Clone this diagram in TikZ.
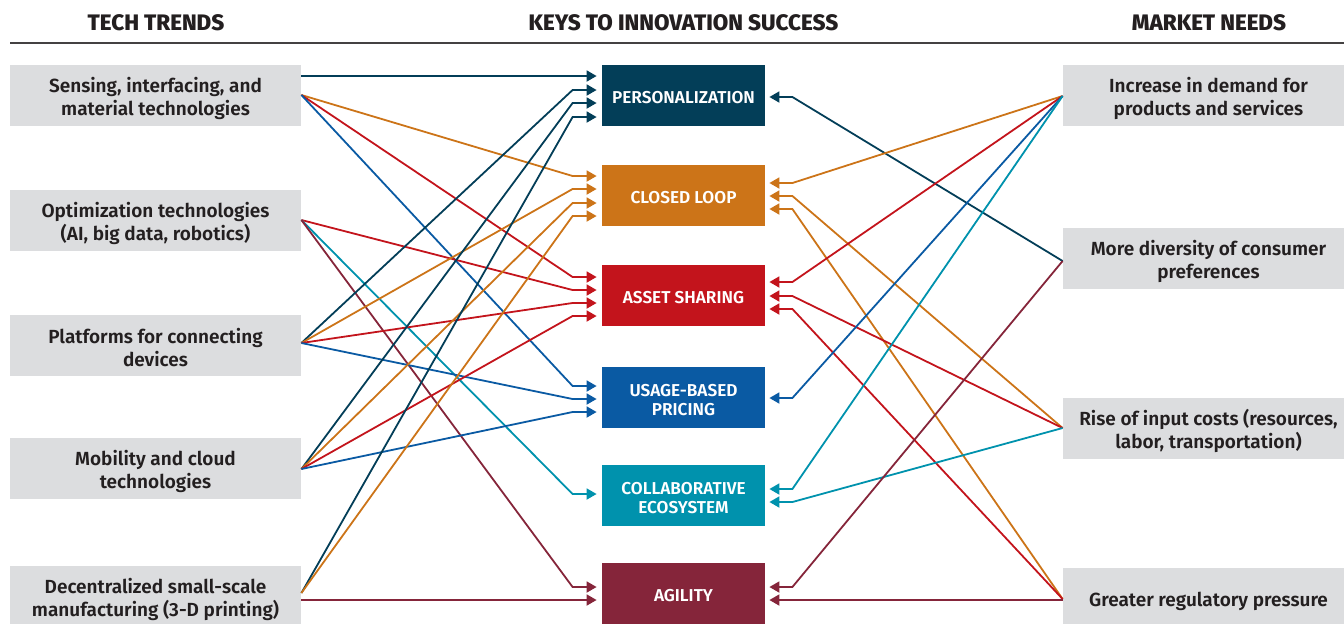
\documentclass[tikz,border=0pt]{standalone}
\usepackage{fontspec}
\setmainfont{Fira Sans SemiBold}
\newfontfamily\headfont{Fira Sans ExtraBold}
\usetikzlibrary{arrows.meta,calc}
\definecolor{cnavy}{HTML}{033E58}
\definecolor{corange}{HTML}{CC7418}
\definecolor{cred}{HTML}{C3141C}
\definecolor{cblue}{HTML}{0A5AA3}
\definecolor{cteal}{HTML}{0092AD}
\definecolor{cmaroon}{HTML}{85253A}
\definecolor{cgray}{HTML}{DCDDDF}
\definecolor{ctext}{HTML}{231F20}
\tikzset{
  x=0.5pt, y=-0.5pt,
  sidebox/.style={fill=cgray, minimum width=145.5pt, minimum height=30.5pt, inner sep=0pt},
  sidetext/.style={text=ctext, inner sep=0pt, align=center, font=\fontsize{9.5}{11.5}\selectfont},
  keybox/.style={fill=#1, minimum width=81.5pt, minimum height=30.5pt, inner sep=0pt},
  keytext/.style={text=white, inner sep=0pt, align=center, font=\fontsize{8.6}{9.7}\selectfont},
  header/.style={text=ctext, font=\headfont\fontsize{11.2}{13}\selectfont},
  link/.style={line width=0.9pt, line join=miter, -{Triangle[length=5pt,width=5.5pt]}},
}
\newcommand\inL[4]{\draw[link,#1] (#2) -- ($(#3.west)+(-29,#4)$) -- ($(#3.west)+(-5,#4)$);}
\newcommand\inR[4]{\draw[link,#1] (#2) -- ($(#3.east)+(27,#4)$) -- ($(#3.east)+(4,#4)$);}
\newcommand\sidenode[3]{\node[sidebox] (#1) at (#2) {};\node[sidetext] (#1t) at ($(#1)+(0,2.5)$) {#3};}
\newcommand\keynode[4]{\node[keybox=#2] (#1) at (#3) {};\node[keytext] (#1t) at ($(#1)+(0,2.5)$) {#4};}
\begin{document}
\begin{tikzpicture}
\useasboundingbox (0,0) rectangle (1344,623);
% headers
\node[header] (h1) at (156,23) {TECH TRENDS};
\node[header] (h2) at (683.5,23) {KEYS TO INNOVATION SUCCESS};
\node[header] (h3) at (1209,23) {MARKET NEEDS};
\coordinate (rl) at (10,43);
\coordinate (rr) at (1344,43);
\draw[line width=0.6pt, ctext!85] (rl) -- (rr);
% left boxes
\sidenode{L1}{155.5,95.5}{Sensing, interfacing, and\\material technologies}
\sidenode{L2}{155.5,220.5}{Optimization technologies\\(AI, big data, robotics)}
\sidenode{L3}{155.5,345.5}{Platforms for connecting\\devices}
\sidenode{L4}{155.5,468.5}{Mobility and cloud\\technologies}
\sidenode{L5}{155.5,596.5}{Decentralized small-scale\\manufacturing (3-D printing)}
% key boxes
\keynode{P}{cnavy}{683.5,95.5}{PERSONALIZATION}
\keynode{C}{corange}{683.5,195.5}{CLOSED LOOP}
\keynode{A}{cred}{683.5,295.5}{ASSET SHARING}
\keynode{U}{cblue}{683.5,397.5}{USAGE-BASED\\PRICING}
\keynode{Co}{cteal}{683.5,495.5}{COLLABORATIVE\\ECOSYSTEM}
\keynode{Ag}{cmaroon}{683.5,593.5}{AGILITY}
% right boxes
\sidenode{R1}{1208.5,95.5}{Increase in demand for\\products and services}
\sidenode{R2}{1208.5,258.5}{More diversity of consumer\\preferences}
\sidenode{R3}{1208.5,428.5}{Rise of input costs (resources,\\labor, transportation)}
\sidenode{R4}{1208.5,598.5}{Greater regulatory pressure}
% source points
\coordinate (l1a) at ($(L1.east)+(0,-19.5)$);
\coordinate (l1b) at ($(L1.east)+(0,-0.5)$);
\coordinate (l2) at ($(L2.east)+(0,-0.5)$);
\coordinate (l3) at ($(L3.east)+(0,-2.5)$);
\coordinate (l4) at ($(L4.east)+(0,0.5)$);
\coordinate (l5a) at ($(L5.east)+(0,-3.5)$);
\coordinate (l5b) at ($(L5.east)+(0,3.5)$);
\coordinate (r1) at ($(R1.west)+(0,0.5)$);
\coordinate (r2) at ($(R2.west)+(0,2.5)$);
\coordinate (r3) at ($(R3.west)+(0,-0.5)$);
\coordinate (r4a) at ($(R4.west)+(0,0.5)$);
\coordinate (r4b) at ($(R4.west)+(0,1.5)$);
% left connectors
\inL{cnavy}{l1a}{P}{-19.5}
\inL{corange}{l1b}{C}{-19.5}
\inL{cred}{l1b}{A}{-18.5}
\inL{cblue}{l1b}{U}{-11.5}
\inL{cred}{l2}{A}{-5.5}
\inL{cteal}{l2}{Co}{-1.5}
\inL{cmaroon}{l2}{Ag}{-6.5}
\inL{cnavy}{l3}{P}{-5.5}
\inL{corange}{l3}{C}{-6.5}
\inL{cred}{l3}{A}{7.5}
\inL{cblue}{l3}{U}{1.5}
\inL{cnavy}{l4}{P}{7.5}
\inL{corange}{l4}{C}{7.5}
\inL{cred}{l4}{A}{20.5}
\inL{cblue}{l4}{U}{14.5}
\inL{cnavy}{l5a}{P}{21.5}
\inL{corange}{l5a}{C}{20.5}
\inL{cmaroon}{l5b}{Ag}{6.5}
% right connectors
\inR{cnavy}{r2}{P}{1.5}
\inR{corange}{r1}{C}{-12.5}
\inR{corange}{r3}{C}{0.5}
\inR{corange}{r4a}{C}{13.5}
\inR{cred}{r1}{A}{-13.5}
\inR{cred}{r3}{A}{0.5}
\inR{cred}{r4a}{A}{13.5}
\inR{cblue}{r1}{U}{0.5}
\inR{cteal}{r1}{Co}{-6.5}
\inR{cteal}{r3}{Co}{6.5}
\inR{cmaroon}{r2}{Ag}{-6.5}
\inR{cmaroon}{r4b}{Ag}{6.5}
\end{tikzpicture}
\end{document}
